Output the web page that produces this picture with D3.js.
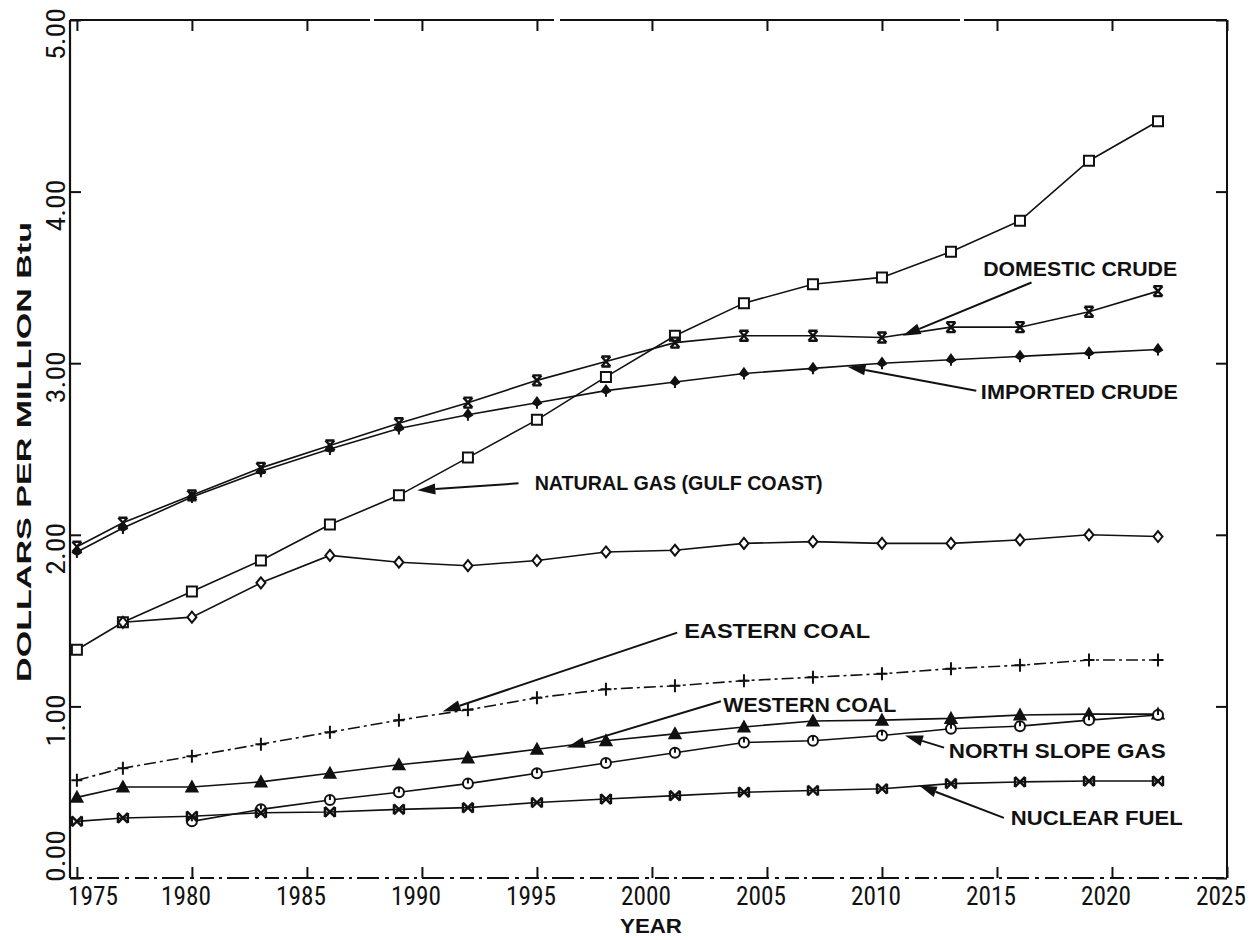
<!DOCTYPE html>
<html>
<head>
<meta charset="utf-8">
<script src="https://cdn.jsdelivr.net/npm/d3@7"></script>
<style>
  body { margin: 0; background: #fff; }
  svg { display: block; }
</style>
</head>
<body>
<div id="chart"></div>
<script>
// Values (dollars per million Btu)
const years = [1975, 1977, 1980, 1983, 1986, 1989, 1992, 1995, 1998, 2001, 2004, 2007, 2010, 2013, 2016, 2019, 2022];
const naturalGas    = [1.33, 1.49, 1.67, 1.85, 2.06, 2.23, 2.45, 2.67, 2.92, 3.16, 3.35, 3.46, 3.50, 3.65, 3.83, 4.18, 4.41];
const domesticCrude = [1.93, 2.07, 2.23, 2.39, 2.52, 2.65, 2.77, 2.90, 3.01, 3.12, 3.16, 3.16, 3.15, 3.21, 3.21, 3.30, 3.42];
const importedCrude = [1.90, 2.04, 2.22, 2.37, 2.50, 2.62, 2.70, 2.77, 2.84, 2.89, 2.94, 2.97, 3.00, 3.02, 3.04, 3.06, 3.08];
const unlabeledGas  = [null, 1.49, 1.52, 1.72, 1.88, 1.84, 1.82, 1.85, 1.90, 1.91, 1.95, 1.96, 1.95, 1.95, 1.97, 2.00, 1.99];
const easternCoal   = [0.57, 0.64, 0.71, 0.78, 0.85, 0.92, 0.98, 1.05, 1.10, 1.12, 1.15, 1.17, 1.19, 1.22, 1.24, 1.27, 1.27];
const westernCoal   = [0.47, 0.53, 0.53, 0.56, 0.61, 0.66, 0.70, 0.75, 0.80, 0.84, 0.88, 0.915, 0.92, 0.93, 0.95, 0.955, 0.955];
const northSlopeGas = [null, null, 0.33, 0.40, 0.455, 0.50, 0.55, 0.61, 0.67, 0.73, 0.79, 0.80, 0.83, 0.87, 0.885, 0.92, 0.95];
const nuclearFuel   = [0.33, 0.35, 0.36, 0.38, 0.385, 0.40, 0.41, 0.44, 0.46, 0.48, 0.50, 0.51, 0.52, 0.55, 0.56, 0.565, 0.565];

const xTicks = [1975, 1980, 1985, 1990, 1995, 2000, 2005, 2010, 2015, 2020, 2025];
const yTicks = [0, 1, 2, 3, 4, 5];

// Callouts: label text, arrow tip and arrow start (year, value), label origin (year, value)
const callouts = [
    {text: "DOMESTIC CRUDE",           tip: [2010.9, 3.16], from: [2016.5, 3.47], at: [2014.4, 3.51], w: 194},
    {text: "IMPORTED CRUDE",           tip: [2008.5, 2.98], from: [2014.1, 2.84], at: [2014.3, 2.79], w: 197},
    {text: "NATURAL GAS (GULF COAST)", tip: [1989.8, 2.26], from: [1994.2, 2.30], at: [1994.9, 2.26], w: 288},
    {text: "EASTERN COAL",             tip: [1990.9, 0.97], from: [2001.1, 1.43], at: [2001.4, 1.40], w: 186},
    {text: "WESTERN COAL",             tip: [1996.3, 0.76], from: [2003.0, 1.03], at: [2003.1, 0.97], w: 173},
    {text: "NORTH SLOPE GAS",          tip: [2011.0, 0.83], from: [2012.7, 0.76], at: [2012.9, 0.70], w: 217},
    {text: "NUCLEAR FUEL",             tip: [2011.6, 0.54], from: [2015.3, 0.35], at: [2015.6, 0.31], w: 172},
];

const series = [
    {values: naturalGas,    marker: "square"},
    {values: domesticCrude, marker: "hourglass"},
    {values: importedCrude, marker: "spade"},
    {values: unlabeledGas,  marker: "diamond"},
    {values: easternCoal,   marker: "plus", dash: "12 4 3 4"},
    {values: westernCoal,   marker: "triangle"},
    {values: northSlopeGas, marker: "circle"},
    {values: nuclearFuel,   marker: "bowtie"},
];

const W = 1253, H = 940;
const plotLeft = 70, plotRight = 1227, plotTop = 20, plotBottom = 878;

const svg = d3.select("#chart").append("svg")
    .attr("width", W)
    .attr("height", H)
    .style("background", "#fff");

const x = d3.scaleLinear().domain([1974.7, 2025]).range([plotLeft, plotRight]);
const y = d3.scaleLinear().domain([0, 5]).range([plotBottom, plotTop]);

const tickFont = "'Liberation Sans Narrow', 'Roboto Condensed', 'DejaVu Sans Condensed', 'Liberation Sans', sans-serif";
const labelFont = "'Liberation Sans', Arial, Helvetica, sans-serif";

// frame with inward ticks on all sides
const axes = svg.append("g").attr("class", "axes");

axes.append("g")
    .attr("transform", `translate(0,${plotBottom})`)
    .call(d3.axisBottom(x).tickValues(xTicks).tickSize(-11).tickFormat(""))
    .call((g) => g.select(".domain").remove());
axes.append("g")
    .attr("transform", `translate(0,${plotTop})`)
    .call(d3.axisTop(x).tickValues(xTicks).tickSize(-11).tickFormat(""))
    .call((g) => g.select(".domain").remove());
axes.append("g")
    .attr("transform", `translate(${plotLeft},0)`)
    .call(d3.axisLeft(y).tickValues(yTicks).tickSize(-11).tickFormat(""))
    .call((g) => g.select(".domain").remove());
axes.append("g")
    .attr("transform", `translate(${plotRight},0)`)
    .call(d3.axisRight(y).tickValues(yTicks).tickSize(-11).tickFormat(""))
    .call((g) => g.select(".domain").remove());

axes.selectAll(".tick line").attr("stroke", "#111").attr("stroke-width", 2);

axes.append("line").attr("x1", plotLeft).attr("x2", plotLeft).attr("y1", plotTop).attr("y2", plotBottom)
    .attr("stroke", "#111").attr("stroke-width", 2.2);
axes.append("line").attr("x1", plotRight).attr("x2", plotRight).attr("y1", plotTop).attr("y2", plotBottom)
    .attr("stroke", "#111").attr("stroke-width", 2);
axes.append("line").attr("x1", plotLeft).attr("x2", plotRight).attr("y1", plotTop).attr("y2", plotTop)
    .attr("stroke", "#111").attr("stroke-width", 2).attr("stroke-dasharray", "300 4 180 6 400 4");
axes.append("line").attr("x1", plotLeft).attr("x2", plotRight).attr("y1", plotBottom).attr("y2", plotBottom)
    .attr("stroke", "#111").attr("stroke-width", 2).attr("stroke-dasharray", "14 5 3 5 22 6 4 6");

// x tick labels
svg.append("g")
    .selectAll("text")
    .data(xTicks)
    .join("text")
    .attr("x", (d) => x(d) + (d === 1975 ? 16 : -6))
    .attr("y", plotBottom + 27)
    .attr("text-anchor", "middle")
    .attr("textLength", 50)
    .attr("lengthAdjust", "spacingAndGlyphs")
    .style("font-family", tickFont)
    .style("font-size", "25px")
    .style("fill", "#111")
    .text((d) => d);

// y tick labels, rotated
svg.append("g")
    .selectAll("text")
    .data(yTicks)
    .join("text")
    .attr("transform", (d) => `translate(65,${y(d) + (d === 0 ? -22 : 14)}) rotate(-90)`)
    .attr("text-anchor", "middle")
    .attr("textLength", 52)
    .attr("lengthAdjust", "spacingAndGlyphs")
    .style("font-family", tickFont)
    .style("font-size", "25px")
    .style("fill", "#111")
    .text((d) => d3.format(".2f")(d));

// axis titles
svg.append("text")
    .attr("transform", `translate(31,452) rotate(-90)`)
    .attr("text-anchor", "middle")
    .attr("textLength", 460)
    .attr("lengthAdjust", "spacingAndGlyphs")
    .style("font-family", labelFont)
    .style("font-weight", "bold")
    .style("font-size", "21px")
    .style("fill", "#111")
    .text("DOLLARS PER MILLION Btu");

svg.append("text")
    .attr("x", 651)
    .attr("y", 933)
    .attr("text-anchor", "middle")
    .attr("textLength", 62)
    .attr("lengthAdjust", "spacingAndGlyphs")
    .style("font-family", labelFont)
    .style("font-weight", "bold")
    .style("font-size", "21px")
    .style("fill", "#111")
    .text("YEAR");

// series lines
const line = d3.line()
    .defined((d) => d[1] != null)
    .x((d) => x(d[0]))
    .y((d) => y(d[1]));

const lineLayer = svg.append("g");
series.forEach((s) => {
    const pts = years.map((yr, i) => [yr, s.values[i]]);
    lineLayer.append("path")
        .datum(pts)
        .attr("fill", "none")
        .attr("stroke", "#111")
        .attr("stroke-width", 1.6)
        .attr("stroke-dasharray", s.dash || null)
        .attr("d", line);
});

// marker shapes
const markerPaths = {
    square: "M-5,-5H5V5H-5Z",
    hourglass: "M-4.5,-5H4.5M-4.5,5H4.5M-4.5,-5L4.5,5M4.5,-5L-4.5,5",
    spade: "M0,-5L4,0.5L0,3L-4,0.5Z M0,0V6",
    diamond: "M0,-5.5L4.5,0L0,5.5L-4.5,0Z",
    plus: "M-5.5,0H5.5M0,-6.5V6.5",
    triangle: "M0,-5.5L5.5,4.5H-5.5Z",
    circle: "M5,0A5,5 0 1,1 -5,0A5,5 0 1,1 5,0Z M0,-5V0",
    bowtie: "M-5,-5L5,5M5,-5L-5,5M-5,-5V5M5,-5V5",
};
const filled = {spade: true, triangle: true};
const hollow = {square: true, diamond: true, circle: true};

const markerLayer = svg.append("g");
series.forEach((s) => {
    const pts = years.map((yr, i) => [yr, s.values[i]]).filter((d) => d[1] != null);
    markerLayer.append("g")
        .selectAll("path")
        .data(pts)
        .join("path")
        .attr("transform", (d) => `translate(${x(d[0])},${y(d[1])})`)
        .attr("d", markerPaths[s.marker])
        .attr("fill", filled[s.marker] ? "#111" : hollow[s.marker] ? "#fff" : "none")
        .attr("stroke", "#111")
        .attr("stroke-width", s.marker === "hourglass" || s.marker === "bowtie" ? 2.4 : 2);
});

// callouts with arrows
const calloutLayer = svg.append("g");
callouts.forEach((c) => {
    const tx = x(c.tip[0]), ty = y(c.tip[1]);
    const fx = x(c.from[0]), fy = y(c.from[1]);
    const ang = Math.atan2(fy - ty, fx - tx);
    const len = 18, half = 5.5;
    const bx = tx + Math.cos(ang) * len, by = ty + Math.sin(ang) * len;
    const px = -Math.sin(ang) * half, py = Math.cos(ang) * half;

    calloutLayer.append("line")
        .attr("x1", fx).attr("y1", fy)
        .attr("x2", bx).attr("y2", by)
        .attr("stroke", "#111")
        .attr("stroke-width", 2);
    calloutLayer.append("path")
        .attr("d", `M${tx},${ty}L${bx + px},${by + py}L${bx - px},${by - py}Z`)
        .attr("fill", "#111");
    calloutLayer.append("text")
        .attr("x", x(c.at[0]))
        .attr("y", y(c.at[1]))
        .attr("textLength", c.w)
        .attr("lengthAdjust", "spacingAndGlyphs")
        .style("font-family", labelFont)
        .style("font-weight", "bold")
        .style("font-size", "20px")
        .style("fill", "#111")
        .text(c.text);
});
</script>
</body>
</html>
